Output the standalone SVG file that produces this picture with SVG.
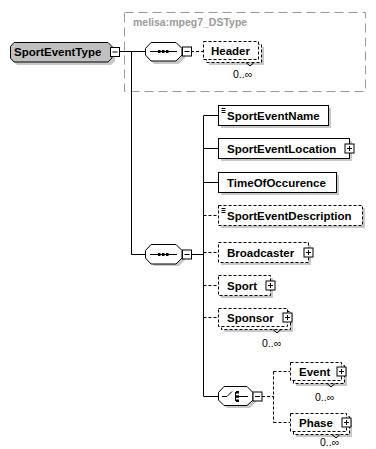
<svg xmlns="http://www.w3.org/2000/svg" width="376" height="449" viewBox="0 0 376 449">
<style>
.t{font-family:"Liberation Sans",Arial,sans-serif;font-weight:bold;font-size:11.5px;fill:#000}
.occ{font-family:"Liberation Sans",Arial,sans-serif;font-size:10.5px;fill:#000}
.lbl{font-family:"Liberation Sans",Arial,sans-serif;font-weight:bold;font-size:10.5px;fill:#9a9a9a}
.sh{fill:#c8c8c8;stroke:none}
.box{fill:#fff;stroke:#000;stroke-width:1}
.dbox{fill:#fff;stroke:#000;stroke-width:1;stroke-dasharray:3,2}
.ln{stroke:#000;stroke-width:1;fill:none}
.dl{stroke:#000;stroke-width:1;fill:none;stroke-dasharray:3,2}
.btn{fill:#fff;stroke:#000;stroke-width:1}
</style>
<defs>
<g id="plus"><rect class="btn" x="0" y="0" width="9" height="9"/><path class="ln" d="M2,4.5H7M4.5,2V7"/></g>
<g id="minus"><rect class="btn" x="0" y="0" width="9" height="9"/><path class="ln" d="M2,4.5H7"/></g>
<g id="simple"><path class="ln" d="M3,3H7M3,5H7M3,7H7"/></g>
</defs>

<g id="group-mpeg7_DSType">
<rect x="124.5" y="12.5" width="241" height="79" fill="none" stroke="#9a9a9a" stroke-dasharray="9,5"/>
<text class="lbl" x="133" y="26">melisa:mpeg7_DSType</text>
</g>

<g id="connectors">
<path class="ln" d="M119,51.5H145M131.5,51.5V254.5H145"/>
<path class="dl" d="M191,51.5H203"/>
<path class="ln" d="M191,254.5H203.5M203.5,115.5V396.5H218"/>
<path class="ln" d="M203.5,115.5H218M203.5,148.5H218M203.5,182.5H218"/>
<path class="dl" d="M203.5,215.5H218M203.5,252.5H218M203.5,285.5H218M203.5,317.5H218"/>
<path class="dl" d="M262,396.5H273.5M273.5,371.5V422.5M273.5,371.5H290M273.5,422.5H290"/>
</g>

<g id="SportEventType">
<polygon class="sh" points="17,45 111,45 115,49 115,61 111,65 17,65 13,61 13,49"/>
<polygon points="14,42.5 108,42.5 112,46.5 112,58 108,62 14,62 10.5,58 10.5,46.5" fill="#c0c0c0" stroke="#000"/>
<text class="t" x="14" y="56">SportEventType</text>
<use href="#minus" x="110.5" y="47.5"/>
</g>

<g id="sequence1">
<polygon class="sh" points="154,45 179,45 185,51 185,58 179,64 154,64 148,58 148,51"/>
<polygon points="151,42.5 176,42.5 182,48.5 182,55 176,61 151,61 145.5,55 145.5,48.5" fill="#fff" stroke="#000"/>
<path class="ln" d="M150,51.5H177"/>
<rect x="158" y="50" width="2.5" height="3" fill="#000"/>
<rect x="162" y="50" width="2.5" height="3" fill="#000"/>
<rect x="166" y="50" width="2.5" height="3" fill="#000"/>
<use href="#minus" x="182.5" y="47"/>
</g>

<g id="Header">
<rect class="sh" x="209" y="47" width="55" height="18"/>
<rect class="dbox" x="206.5" y="44.5" width="55" height="18"/>
<rect class="dbox" x="203.5" y="41.5" width="55" height="18"/>
<path class="ln" d="M246,62.5L250,66L254,62.5" fill="#fff"/>
<text class="t" x="211" y="55">Header</text>
<text class="occ" x="233" y="78">0..∞</text>
</g>

<g id="sequence2">
<polygon class="sh" points="154,247 179,247 185,253 185,260 179,266 154,266 148,260 148,253"/>
<polygon points="151,244.5 176,244.5 182,250.5 182,258 176,264 151,264 145.5,258 145.5,250.5" fill="#fff" stroke="#000"/>
<path class="ln" d="M150,254.5H177"/>
<rect x="158" y="253" width="2.5" height="3" fill="#000"/>
<rect x="162" y="253" width="2.5" height="3" fill="#000"/>
<rect x="166" y="253" width="2.5" height="3" fill="#000"/>
<use href="#minus" x="182.5" y="250"/>
</g>

<g id="SportEventName">
<rect class="sh" x="221" y="108" width="110" height="20"/>
<rect class="box" x="218.5" y="105.5" width="110" height="20"/>
<use href="#simple" x="218.5" y="105.5"/>
<text class="t" x="227" y="119.5">SportEventName</text>
</g>

<g id="SportEventLocation">
<rect class="sh" x="221" y="141" width="131" height="20"/>
<rect class="box" x="218.5" y="138.5" width="131" height="20"/>
<text class="t" x="227" y="152.5">SportEventLocation</text>
<use href="#plus" x="345" y="144"/>
</g>

<g id="TimeOfOccurence">
<rect class="sh" x="221" y="175" width="118" height="20"/>
<rect class="box" x="218.5" y="172.5" width="118" height="20"/>
<text class="t" x="227" y="186.5">TimeOfOccurence</text>
</g>

<g id="SportEventDescription">
<rect class="sh" x="221" y="208" width="144" height="20"/>
<rect class="dbox" x="218.5" y="205.5" width="144" height="20"/>
<use href="#simple" x="218.5" y="205.5"/>
<text class="t" x="227" y="219.5">SportEventDescription</text>
</g>

<g id="Broadcaster">
<rect class="sh" x="221" y="245" width="90" height="20"/>
<rect class="dbox" x="218.5" y="242.5" width="90" height="20"/>
<text class="t" x="227" y="256.5">Broadcaster</text>
<use href="#plus" x="304" y="248"/>
</g>

<g id="Sport">
<rect class="sh" x="221" y="278" width="52" height="20"/>
<rect class="dbox" x="218.5" y="275.5" width="52" height="20"/>
<text class="t" x="227" y="289.5">Sport</text>
<use href="#plus" x="266" y="281"/>
</g>

<g id="Sponsor">
<rect class="sh" x="224" y="314" width="69" height="18"/>
<rect class="dbox" x="221.5" y="311.5" width="69" height="18"/>
<rect class="dbox" x="218.5" y="308.5" width="69" height="18"/>
<use href="#plus" x="283" y="313"/>
<path class="ln" d="M273,329.5L277,333L281,329.5" fill="#fff"/>
<text class="t" x="227" y="322">Sponsor</text>
<text class="occ" x="262" y="347">0..∞</text>
</g>

<g id="choice">
<polygon class="sh" points="227,389 250,389 256,395 256,402 250,408 227,408 221,402 221,395"/>
<polygon points="224,386.5 247,386.5 253,392.5 253,400 247,405.5 224,405.5 218.5,400 218.5,392.5" fill="#fff" stroke="#000"/>
<path class="ln" d="M222,396.5H227L232,391.5"/>
<path class="ln" d="M235.5,392V401M235.5,396.5H248"/>
<rect x="236" y="391" width="3" height="2.5" fill="#000"/>
<rect x="236" y="395.3" width="3" height="2.5" fill="#000"/>
<rect x="236" y="399.5" width="3" height="2.5" fill="#000"/>
<use href="#minus" x="253" y="392"/>
</g>

<g id="Event">
<rect class="sh" x="296" y="368" width="51" height="18"/>
<rect class="dbox" x="293.5" y="365.5" width="51" height="18"/>
<rect class="dbox" x="290.5" y="362.5" width="51" height="18"/>
<use href="#plus" x="337" y="367"/>
<path class="ln" d="M327,383.5L331,387L335,383.5" fill="#fff"/>
<text class="t" x="299" y="376">Event</text>
<text class="occ" x="315" y="401">0..∞</text>
</g>

<g id="Phase">
<rect class="sh" x="296" y="419" width="56" height="18"/>
<rect class="dbox" x="293.5" y="416.5" width="56" height="18"/>
<rect class="dbox" x="290.5" y="413.5" width="56" height="18"/>
<use href="#plus" x="342" y="418"/>
<path class="ln" d="M332,434.5L336,438L340,434.5" fill="#fff"/>
<text class="t" x="299" y="427">Phase</text>
<text class="occ" x="320" y="446">0..∞</text>
</g>
</svg>
